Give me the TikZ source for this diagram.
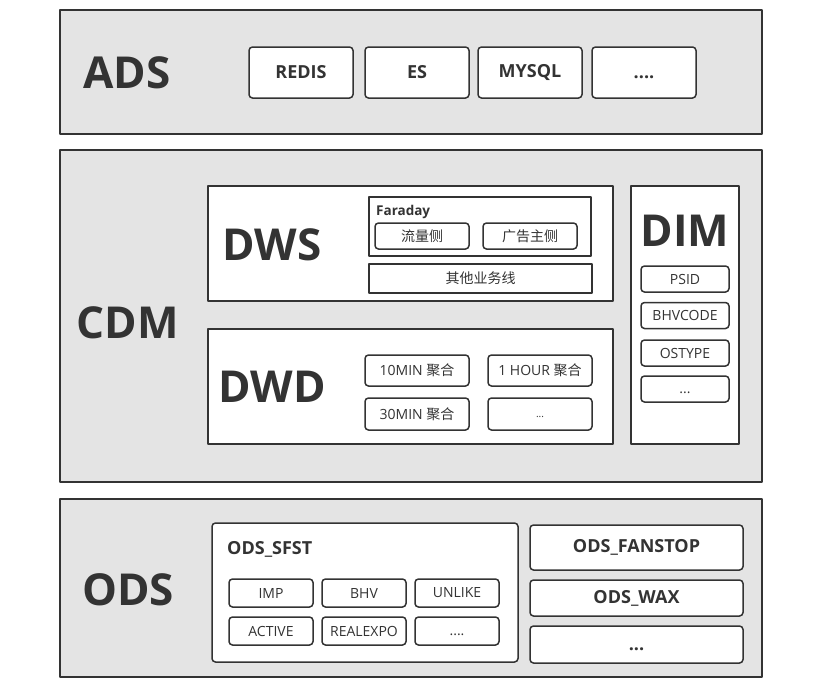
\documentclass[tikz,border=0pt]{standalone}
\usepackage{fontspec}
\setmainfont{Open Sans}
\newfontfamily\cjk{Noto Sans CJK SC}
\usetikzlibrary{positioning}
\definecolor{dwInk}{HTML}{333333}
\definecolor{dwGray}{HTML}{E4E4E4}
\tikzset{
 warehouse/.style={x=1pt,y=-1pt,text=dwInk,line join=round},
 panel/.style={draw=dwInk,fill=dwGray,line width=1.6pt,inner sep=0pt},
 tier/.style={font=\fontsize{44}{44}\selectfont\bfseries,inner sep=0pt},
 sect/.style={draw=dwInk,fill=white,line width=1.5pt,inner sep=0pt},
 item/.style={draw=dwInk,fill=white,line width=1.5pt,rounded corners=3.5pt,inner sep=0pt,
   font=\fontsize{14}{14}\selectfont},
 bigitem/.style={item,font=\fontsize{18}{18}\selectfont\bfseries},
 caption/.style={anchor=west,inner sep=0pt}
}
\newcommand{\dwFour}{\vphantom{X}....}
\newcommand{\dwThree}{\vphantom{X}...}
\begin{document}
\begin{tikzpicture}[warehouse]
 \useasboundingbox (0,0) rectangle (827,689);
 % layer panels
 \node[panel,minimum width=702pt,minimum height=124pt] (adsPanel) at (411,72) {};
 \node[panel,minimum width=702pt,minimum height=332pt] (cdmPanel) at (411,316) {};
 \node[panel,minimum width=702pt,minimum height=178pt] (odsPanel) at (411,588) {};
 \node[tier] (adsLbl) at (127,73) {ADS};
 \node[tier] (cdmLbl) at (128,323) {CDM};
 \node[tier] (odsLbl) at (128,590) {ODS};
 % ADS stores
 \foreach \n/\x/\t in {redis/301/REDIS,es/417/ES,mysql/530/MYSQL,adsMore/644/\dwFour}
  {\node[item,font=\fontsize{18}{18}\selectfont\bfseries,minimum width=104pt,minimum height=51pt] (\n) at (\x,72.5) {\t};}
 % DWS
 \node[sect,minimum width=405pt,minimum height=115pt] (dws) at (410.5,243.5) {};
 \node[tier] (dwsLbl) at (272,245) {DWS};
 \node[sect,minimum width=222pt,minimum height=59pt] (faraday) at (480,226.5) {};
 \node[caption,font=\fontsize{13.5}{13.5}\selectfont\bfseries] (faradayLbl) at (376,212) {Faraday};
 \node[item,minimum width=94pt,minimum height=26pt] (flow) at (422,236) {\cjk 流量侧};
 \node[item,minimum width=94pt,minimum height=26pt] (adv) at (530,236) {\cjk 广告主侧};
 \node[sect,minimum width=223pt,minimum height=29pt,font=\fontsize{14}{14}\selectfont] (other) at (480.5,278.5) {\cjk 其他业务线};
 % DWD
 \node[sect,minimum width=405pt,minimum height=115pt] (dwd) at (410.5,386.5) {};
 \node[tier] (dwdLbl) at (272,387) {DWD};
 \node[item,minimum width=104pt,minimum height=31pt] (tenMin) at (417,370.5) {10MIN {\cjk 聚合}};
 \node[item,minimum width=104pt,minimum height=31pt] (oneHour) at (540,370.5) {1 HOUR {\cjk 聚合}};
 \node[item,minimum width=104pt,minimum height=32pt] (thirtyMin) at (417,414) {30MIN {\cjk 聚合}};
 \node[item,minimum width=104pt,minimum height=32pt,font=\fontsize{10}{10}\selectfont] (dwdMore) at (540,414) {\dwThree};
 % DIM
 \node[sect,minimum width=108pt,minimum height=258pt] (dim) at (685,315) {};
 \node[tier] (dimLbl) at (685,231) {DIM};
 \foreach \n/\y/\t in {psid/279/PSID,bhvcode/315.5/BHVCODE,ostype/353/OSTYPE,dimMore/389/\dwThree}
  {\node[item,minimum width=88pt,minimum height=26pt] (\n) at (685,\y) {\t};}
 % ODS sources
 \node[item,minimum width=306pt,minimum height=139pt] (sfst) at (365,592.5) {};
 \node[caption,font=\fontsize{18}{18}\selectfont\bfseries] (sfstLbl) at (227,549) {ODS\_SFST};
 \foreach \n/\x/\y/\t in {imp/271/593/IMP,bhv/364/593/BHV,unlike/457/593/UNLIKE,
   active/271/631/ACTIVE,realexpo/364/631/REALEXPO,sfstMore/457/631/\dwFour}
  {\node[item,minimum width=84pt,minimum height=28pt] (\n) at (\x,\y) {\t};}
 \node[bigitem,minimum width=213pt,minimum height=45pt] (fanstop) at (636.5,547.5) {ODS\_FANSTOP};
 \node[bigitem,minimum width=213pt,minimum height=36pt] (wax) at (636.5,598) {ODS\_WAX};
 \node[bigitem,minimum width=213pt,minimum height=37pt] (odsMore) at (636.5,644.5) {\dwThree};
\end{tikzpicture}
\end{document}
